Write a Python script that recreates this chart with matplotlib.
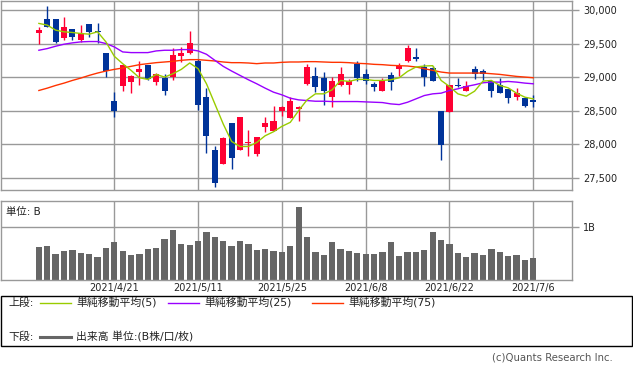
import matplotlib
matplotlib.use("Agg")
import matplotlib.pyplot as plt
from matplotlib.patches import Rectangle
from matplotlib.lines import Line2D
import numpy as np

plt.rcParams['font.family'] = ['DejaVu Sans', 'Noto Sans CJK JP']

dates = ["4/8","4/9","4/12","4/13","4/14","4/15","4/16","4/19","4/20","4/21",
         "4/22","4/23","4/26","4/27","4/28","4/30","5/6","5/7","5/10","5/11",
         "5/12","5/13","5/14","5/17","5/18","5/19","5/20","5/21","5/24","5/25",
         "5/26","5/27","5/28","5/31","6/1","6/2","6/3","6/4","6/7","6/8",
         "6/9","6/10","6/11","6/14","6/15","6/16","6/17","6/18","6/21","6/22",
         "6/23","6/24","6/25","6/28","6/29","6/30","7/1","7/2","7/5","7/6"]

open_ = [29660,29865,29865,29585,29715,29550,29790,29685,29360,28650,28860,28925,29075,29175,28925,28990,29000,29315,29360,29240,
         28710,27915,27710,28310,27915,28010,27860,28250,28190,28500,28390,28525,28890,29010,28990,28710,28875,28875,29200,29040,
         28890,28790,29025,29125,29235,29300,29150,29135,28500,28485,28875,28790,29125,29095,28940,28885,28825,28700,28690,28665]
close = [29700,29750,29525,29740,29600,29650,29675,29665,29090,28490,29175,29010,29115,28965,29040,28790,29325,29360,29505,28590,
         28125,27425,28085,27800,28400,28035,28100,28310,28350,28550,28640,28550,29150,28850,28790,28935,29050,28940,28990,28940,
         28850,28950,28925,29160,29435,29265,29000,28940,27990,28875,28860,28865,29050,29040,28790,28765,28685,28760,28575,28625]
high = [29750,30060,29865,29900,29715,29775,29790,29810,29360,28775,29175,29025,29235,29175,29060,29040,29435,29450,29685,29275,
        28835,27965,28110,28310,28400,28215,28100,28410,28575,28575,28700,28575,29200,29150,29075,29000,29150,28975,29235,29125,
        28925,28990,29075,29215,29485,29435,29190,29170,28500,28875,28990,28935,29165,29115,28940,28985,28825,28840,28700,28735]
low = [29500,29750,29515,29560,29560,29525,29600,29510,29000,28400,28790,28760,28885,28950,28875,28740,28950,29225,29340,28515,
       27875,27365,27700,27625,27915,27825,27825,28175,28190,28425,28390,28340,28875,28775,28590,28550,28860,28750,28940,28890,
       28790,28790,28810,29010,29225,29235,28860,28940,27765,28485,28850,28790,28965,28960,28710,28765,28610,28660,28560,28560]

ma5 = [29800,29775,29700,29675,29665,29650,29640,29675,29525,29310,29200,29100,28990,28965,29040,29000,29050,29115,29210,29125,
       28900,28600,28300,28040,27965,27965,28025,28125,28185,28265,28325,28500,28660,28750,28750,28810,28950,28935,28965,28965,
       28950,28950,28960,28990,29085,29150,29165,29170,28950,28860,28750,28715,28790,28940,28950,28875,28840,28760,28700,28675]
ma25 = [29400,29425,29460,29490,29510,29525,29530,29530,29500,29450,29375,29365,29365,29365,29390,29400,29400,29410,29410,29390,
        29340,29250,29160,29090,29025,28960,28900,28835,28775,28735,28685,28660,28650,28640,28640,28635,28635,28635,28635,28630,
        28625,28620,28600,28590,28625,28675,28725,28750,28760,28800,28825,28860,28885,28915,28925,28925,28935,28925,28910,28900]
ma75 = [28800,28835,28875,28910,28950,28985,29025,29060,29090,29115,29135,29160,29185,29200,29215,29225,29235,29250,29260,29260,
        29250,29240,29225,29215,29215,29210,29200,29210,29210,29220,29225,29225,29230,29230,29225,29220,29220,29215,29205,29200,
        29190,29185,29175,29170,29165,29150,29125,29100,29075,29060,29060,29060,29060,29060,29050,29040,29025,29010,29000,28990]

volume = [0.633,0.646,0.494,0.551,0.570,0.519,0.494,0.443,0.614,0.722,0.551,0.475,0.494,0.595,0.614,0.785,0.956,0.690,0.665,0.741,
          0.918,0.816,0.747,0.646,0.741,0.690,0.576,0.589,0.551,0.532,0.646,1.392,0.816,0.532,0.475,0.722,0.589,0.551,0.513,0.494,
          0.494,0.532,0.722,0.456,0.532,0.532,0.570,0.911,0.759,0.684,0.513,0.437,0.513,0.475,0.589,0.532,0.456,0.475,0.380,0.418]

tick_dates = ["4/21", "5/11", "5/25", "6/8", "6/22", "7/6"]
tick_labels = ["2021/4/21", "2021/5/11", "2021/5/25", "2021/6/8", "2021/6/22", "2021/7/6"]
price_ticks = [27500, 28000, 28500, 29000, 29500, 30000]
price_labels = ["27,500", "28,000", "28,500", "29,000", "29,500", "30,000"]
legend_names = ["単純移動平均(5)", "単純移動平均(25)", "単純移動平均(75)"]

RED = '#FF0033'
BLUE = '#003399'
GRID = '#999999'
MA_COLORS = ['#99CC00', '#9900FF', '#FF3300']

W, H = 633, 372
fig = plt.figure(figsize=(W/100, H/100), dpi=100)

def fr(x0, y0, x1, y1):
    return [x0/W, 1-y1/H, (x1-x0)/W, (y1-y0)/H]

x = np.arange(len(dates))
xlim = (-4.58, 63.62)
tick_pos = [dates.index(d) for d in tick_dates]

# ---- price panel
ax = fig.add_axes(fr(0.5, 0.5, 572, 190))
ax.set_xlim(*xlim)
ax.set_ylim(27316, 30142)
for p in price_ticks:
    ax.axhline(p, color=GRID, lw=1.0, zorder=0)
for t in tick_pos:
    ax.axvline(t, color=GRID, lw=1.0, zorder=0)

o = np.array(open_); c = np.array(close)
up = c >= o
cols = [RED if u else BLUE for u in up]
ax.vlines(x, low, high, colors=cols, lw=1.0, zorder=2)
bottoms = np.minimum(o, c)
heights = np.maximum(np.abs(c - o), 18)
ax.bar(x, heights, bottom=bottoms, width=0.72, color=cols, lw=0, zorder=3)

for ma, col in zip([ma75, ma25, ma5], [MA_COLORS[2], MA_COLORS[1], MA_COLORS[0]]):
    ax.plot(x, ma, color=col, lw=1.0, zorder=4)

ax.yaxis.tick_right()
ax.set_yticks(price_ticks)
ax.set_yticklabels(price_labels, fontsize=7, color='#222222')
ax.tick_params(axis='y', length=5, color=GRID, width=1, pad=3)
ax.set_xticks([])
for s in ax.spines.values():
    s.set_color(GRID); s.set_linewidth(1.0)

# ---- volume panel
av = fig.add_axes(fr(0.5, 201, 572, 280))
av.set_xlim(*xlim)
av.set_ylim(0, 1.5)
av.axhline(1.0, color=GRID, lw=1.0, zorder=0)
for t in tick_pos:
    av.axvline(t, color=GRID, lw=1.0, zorder=0)
av.bar(x, volume, width=0.75, color='#666666', lw=0, zorder=2)
av.yaxis.tick_right()
av.set_yticks([1.0])
av.set_yticklabels(["1B"], fontsize=7, color='#222222')
av.tick_params(axis='y', length=5, color=GRID, width=1, pad=3)
av.set_xticks(tick_pos)
av.set_xticklabels(tick_labels, fontsize=7, color='#222222')
av.tick_params(axis='x', length=0, pad=2)
for s in av.spines.values():
    s.set_color(GRID); s.set_linewidth(1.0)
av.text(5/571.5, 1-10.5/79, "単位: B", transform=av.transAxes, fontsize=7.5,
        va='center', ha='left', color='#222222')

# ---- legend box
fig.patches.append(Rectangle((0.5/W, 1-346/H), 631.5/W, 50/H, transform=fig.transFigure,
                             fill=False, ec='black', lw=1.0))
def fy(y):
    return 1 - y/H
fig.text(8/W, fy(303), "上段:", fontsize=7.8, va='center', ha='left', color='#222222')
line_x = [(40, 71), (168, 199), (312, 343)]
text_x = [76, 204, 348]
for (x0, x1), tx, col, name in zip(line_x, text_x, MA_COLORS, legend_names):
    fig.lines.append(Line2D([x0/W, x1/W], [fy(303), fy(303)], transform=fig.transFigure,
                            color=col, lw=1.0))
    fig.text(tx/W, fy(303), name, fontsize=7.8, va='center', ha='left', color='#222222')
fig.text(8/W, fy(336.5), "下段:", fontsize=7.8, va='center', ha='left', color='#222222')
fig.lines.append(Line2D([40/W, 71/W], [fy(336.5), fy(336.5)], transform=fig.transFigure,
                        color='#666666', lw=2.2))
fig.text(76/W, fy(336.5), "出来高 単位:(B株/口/枚)", fontsize=7.8, va='center', ha='left', color='#222222')

fig.text(613/W, fy(358), "(c)Quants Research Inc.", fontsize=7.3, va='center', ha='right', color='#555555')

fig.savefig("out.png", dpi=100, facecolor='white')
